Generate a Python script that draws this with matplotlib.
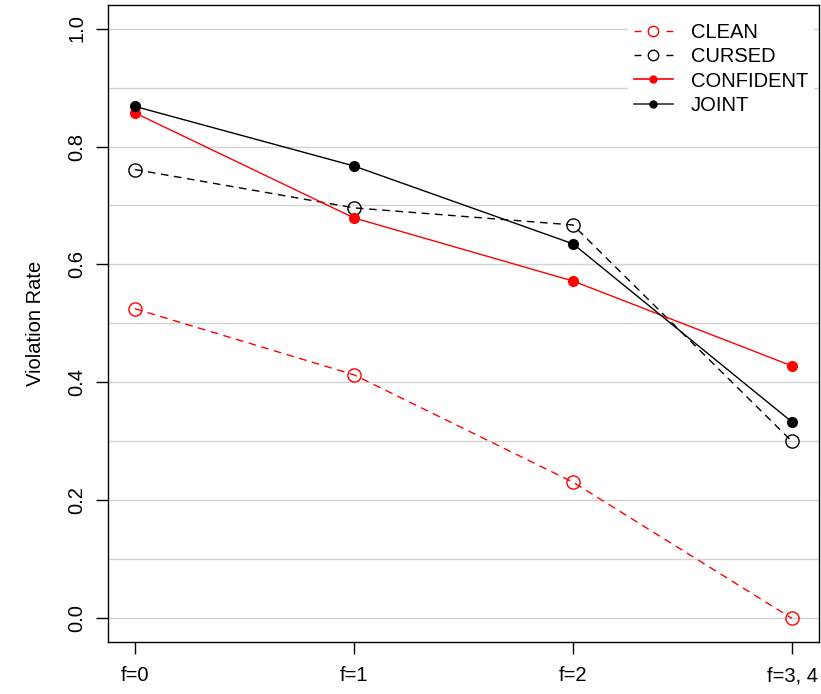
import matplotlib.pyplot as plt
from matplotlib.lines import Line2D
import numpy as np

plt.rcParams['font.family'] = ['Liberation Sans', 'DejaVu Sans']

labels = ['f=0', 'f=1', 'f=2', 'f=3, 4']
clean = [0.525, 0.413, 0.231, 0.0]
cursed = [0.761, 0.696, 0.667, 0.300]
confident = [0.857, 0.679, 0.572, 0.428]
joint = [0.868, 0.767, 0.635, 0.333]

x = np.arange(len(labels))
dash = (0, (5.5, 4))

fig = plt.figure(figsize=(8.21, 6.94), dpi=100)
ax = fig.add_axes([0.1315, 0.0749, 0.866, 0.918])

for yv in np.arange(0, 1.01, 0.1):
    ax.axhline(yv, color='#d3d3d3', lw=1, zorder=0)

ax.plot(x, clean, color='red', ls=dash, lw=1, marker='o', ms=9.5,
        mfc='none', mec='red')
ax.plot(x, cursed, color='black', ls=dash, lw=1, marker='o', ms=9.5,
        mfc='none', mec='black')
ax.plot(x, confident, color='red', lw=1, marker='o', ms=7)
ax.plot(x, joint, color='black', lw=1, marker='o', ms=7)

ax.set_xlim(-0.123, 3.123)
ax.set_ylim(-0.04, 1.04)
ax.set_xticks(x)
ax.set_xticklabels(labels)
ax.set_yticks([0.0, 0.2, 0.4, 0.6, 0.8, 1.0])
ax.set_yticklabels(['0.0', '0.2', '0.4', '0.6', '0.8', '1.0'], rotation=90, va='center')
ax.tick_params(axis='both', direction='out', length=8.5, width=1, labelsize=14.5, pad=9)
ax.tick_params(axis='y', pad=7)
ax.set_ylabel('Violation Rate', fontsize=14.5, labelpad=16)
for s in ax.spines.values():
    s.set_linewidth(1)

# legend keys are drawn smaller than the plotted points
ldash = (0, (5, 18))
handles = [
    Line2D([], [], color='red', ls=ldash, lw=1, marker='o', ms=7.5, mfc='none', mec='red'),
    Line2D([], [], color='black', ls=ldash, lw=1, marker='o', ms=7.5, mfc='none', mec='black'),
    Line2D([], [], color='red', lw=1.2, marker='o', ms=5),
    Line2D([], [], color='#333333', lw=1.2, marker='o', ms=5, mfc='black', mec='black'),
]
ax.legend(handles, ['CLEAN', 'CURSED', 'CONFIDENT', 'JOINT'],
          loc='upper left', bbox_to_anchor=(628 / 821, 1 - 17 / 694),
          bbox_transform=fig.transFigure, fontsize=14.5, frameon=True,
          fancybox=False, edgecolor='none', facecolor='white', framealpha=1,
          handlelength=1.93, handletextpad=0.9, labelspacing=0.26,
          borderpad=0.3, borderaxespad=0)

fig.savefig('out.png', dpi=100)
